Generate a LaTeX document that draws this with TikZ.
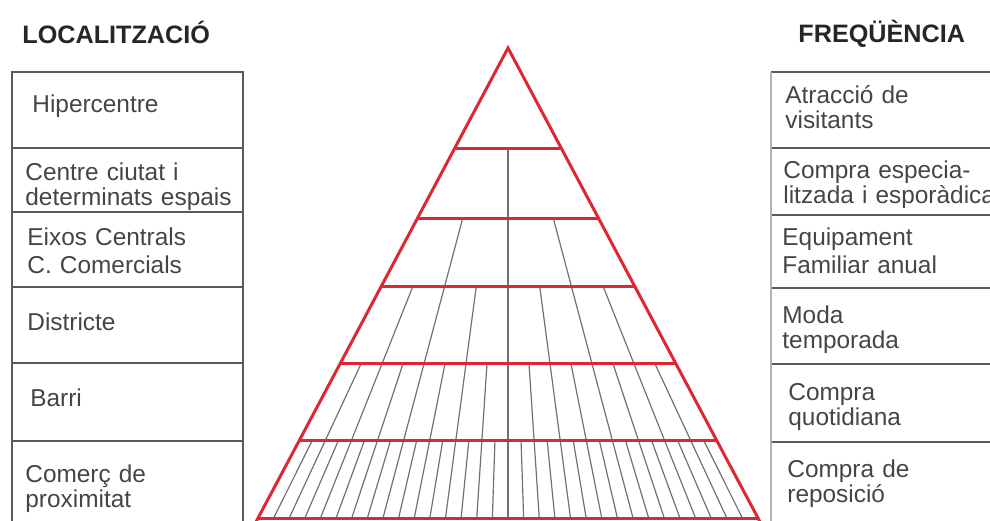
\documentclass[tikz,border=0pt]{standalone}
\usepackage{fontspec}
\setmainfont{Liberation Sans}
\usepackage{tikz}
\usetikzlibrary{calc}
\definecolor{PyrRed}{HTML}{DC2832}
\definecolor{RayGray}{HTML}{6E7178}
\definecolor{GridGray}{HTML}{5A5A5A}
\definecolor{EdgeGray}{HTML}{B4B4B4}
\definecolor{CellText}{HTML}{454545}

\begin{document}
\begin{tikzpicture}[x=0.5pt, y=-0.5pt, every node/.style={font=\fontsize{12.2}{12.5}\selectfont, text=CellText, inner sep=0pt, anchor=base west, align=left, text width=112pt}]
\useasboundingbox (0,0) rectangle (990,520);
\node[font=\bfseries\fontsize{12.6}{14}\selectfont, text=black!85] (loc) at (22,43) {LOCALITZACIÓ};
\node[font=\bfseries\fontsize{12.6}{14}\selectfont, text=black!85] (freq) at (798,42) {FREQÜÈNCIA};
\draw[GridGray, line width=0.7pt] (12,530) -- (12,72) -- (243,72) -- (243,530);
\foreach \y in {148,212,287,363,441}
  \draw[GridGray, line width=0.7pt] (12,\y) -- (243,\y);
\draw[GridGray, line width=0.7pt] (771,72) -- (1000,72);
\foreach \y in {148,215,288,364,442}
  \draw[GridGray, line width=0.7pt] (771,\y) -- (1000,\y);
\draw[EdgeGray, line width=1.4pt] (771,72) -- (771,530);
\node (hiper) at (32,112) {Hipercentre};
\node (centre) at (25,180) {Centre ciutat i\\determinats espais};
\node (eixos) at (27,245) {Eixos Centrals\\[1.5pt]C. Comercials};
\node (districte) at (27,330) {Districte};
\node (barri) at (30,406) {Barri};
\node (proxim) at (25,482) {Comerç de\\proximitat};
\node (visit) at (785,103) {Atracció de\\visitants};
\node (especial) at (783,178) {Compra especia-\\litzada i esporàdica};
\node (equip) at (782,245) {Equipament\\[1.5pt]Familiar anual};
\node (moda) at (782,323) {Moda\\temporada};
\node (quotid) at (788,400) {Compra\\quotidiana};
\node (repos) at (787,477) {Compra de\\reposició};
\coordinate (apex) at (508,48);
\draw[RayGray, line width=0.6pt] (508,148) -- (508,518);
\foreach \ys/\m in {218/2,286/4,363/8,440/16}{
  \pgfmathtruncatemacro\half{\m/2}
  \foreach \i in {1,...,\half}
    \foreach \s in {-1,1}
      \draw[RayGray, line width=0.6pt] ({508+\s*(2*\i-1)/\m*0.532*(\ys-48)},\ys) -- ({508+\s*(2*\i-1)/\m*0.532*470},518);
}
\foreach \ys in {148,218,286,363,440,518}
  \draw[PyrRed, line width=1.5pt] ({508-0.532*(\ys-48)},\ys) -- ({508+0.532*(\ys-48)},\ys);
\draw[PyrRed, line width=1.5pt] ($(apex)+(-265.9,500)$) -- (apex) -- ($(apex)+(265.9,500)$);
\end{tikzpicture}
\end{document}
